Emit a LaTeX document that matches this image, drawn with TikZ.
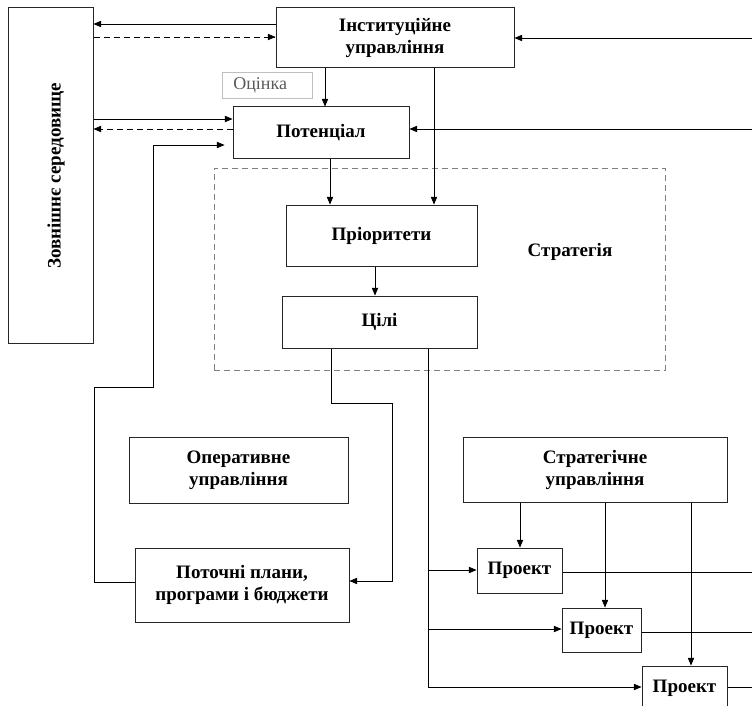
\documentclass[tikz,border=0pt]{standalone}
\usepackage{fontspec}
\setmainfont{Liberation Serif}
\usepackage{tikz}
\usetikzlibrary{arrows}
\tikzstyle{B} = [rectangle,draw=black!85,line width=1pt,fill=white,align=center,inner sep=0pt,font=\fontsize{19}{22}\selectfont\bfseries]
\tikzset{>={triangle 45}}
\tikzset{dsh/.style={dash pattern=on 6pt off 4pt}}

\begin{document}
\begin{tikzpicture}[x=1pt,y=-1pt,line width=0.75pt]
  \useasboundingbox (0,0) rectangle (752,706);

  \node [B,minimum width=85,minimum height=335] (n0) at (50.5,175.5) {};
  \node [rotate=90,font=\fontsize{19}{22}\selectfont\bfseries] (t0) at (56,176) {Зовнішнє середовище};

  \node [B,minimum width=238,minimum height=60] (n1) at (395,38) {Інституційне\\управління};
  \node [draw=gray!50,text=gray!70!black,line width=0.6pt,text width=68,inner xsep=11,inner ysep=0pt,
    minimum height=26,anchor=west,font=\fontsize{18}{22}\selectfont] (c1) at (222,85) {Оцінка};
  \node [B,minimum width=176,minimum height=51] (n2) at (321,132.5) {Потенціал};

  \node [draw=gray,dsh,line width=0.6pt,minimum width=451,minimum height=202] (s1) at (439.5,269) {};
  \node [font=\fontsize{19}{22}\selectfont\bfseries] (s2) at (570,252) {Стратегія};
  \node [B,minimum width=191,minimum height=61] (n3) at (381.5,235.5) {Пріоритети};
  \node [B,minimum width=195,minimum height=52] (n4) at (379.5,322) {Цілі};

  \node [B,minimum width=219,minimum height=66] (n5) at (238.5,470) {Оперативне\\управління};
  \node [B,minimum width=214,minimum height=74] (n6) at (242,585) {Поточні плани,\\програми і бюджети};

  \node [B,minimum width=264,minimum height=65] (n7) at (595,469.5) {Стратегічне\\управління};
  \node [B,minimum width=85,minimum height=45] (p1) at (519.5,570.5) {Проект};
  \node [B,minimum width=79,minimum height=44] (p2) at (601.5,630) {Проект};
  \node [B,minimum width=85,minimum height=44] (p3) at (684.5,688) {Проект};

  \coordinate (e1) at (752,38);
  \coordinate (e2) at (752,129);
  \coordinate (e3) at (752,572);
  \coordinate (e4) at (752,632);
  \coordinate (e5) at (752,687);

  % zovnishnje seredovyshche
  \draw [->] (n1.west |- 0,24) -- (n0.east |- 0,24);
  \draw [->,dsh] (n0.east |- 0,37) -- (n1.west |- 0,37);
  \draw [->] (n0.east |- 0,119) -- (n2.west |- 0,119);
  \draw [->,dsh] (n2.west |- 0,129) -- (n0.east |- 0,129);

  \draw [->] (e1) -- (n1.east |- e1);
  \draw [->] (e2) -- (n2.east |- e2);

  \draw [->] (325,0 |- n1.south) -- (325,0 |- n2.north);
  \draw [->] (434,0 |- n1.south) -- (434,0 |- n3.north);
  \draw [->] (330,0 |- n2.south) -- (330,0 |- n3.north);
  \draw [->] (375,0 |- n3.south) -- (375,0 |- n4.north);

  % operatyvne
  \draw [->] (331,0 |- n4.south) -- (331,403) -- (392,403) -- (392,581) -- (n6.east |- 0,581);
  \draw [->,shorten >=8pt] (n6.west |- 0,582) -- (94,582) -- (94,387) -- (153,387) -- (153,145) -- (n2.west |- 0,145);

  % proekty
  \draw (428,0 |- n4.south) -- (428,687);
  \draw [->] (428,570) -- (p1.west |- 0,570);
  \draw [->] (428,629) -- (p2.west |- 0,629);
  \draw [->] (428,687) -- (p3.west |- 0,687);
  \draw [->] (520,0 |- n7.south) -- (520,0 |- p1.north);
  \draw [->] (605,0 |- n7.south) -- (605,0 |- p2.north);
  \draw [->] (691,0 |- n7.south) -- (691,0 |- p3.north);
  \draw (p1.east |- e3) -- (e3);
  \draw (p2.east |- e4) -- (e4);
  \draw (p3.east |- e5) -- (e5);

\end{tikzpicture}
\end{document}
